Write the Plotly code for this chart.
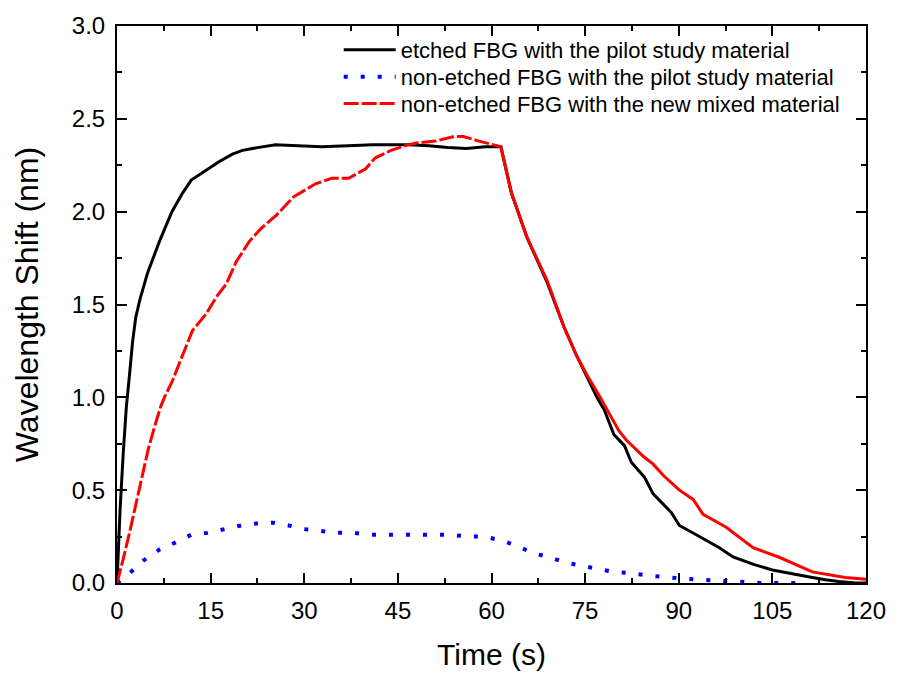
import plotly.graph_objects as go

# etched FBG with the pilot study material (black)
t_black = [0, 0.5, 1, 1.5, 2, 2.5, 3, 3.7, 4.9, 6.8, 8.8, 10.5, 11.9, 13.7, 16.4, 18.5, 20.1, 22.5, 25.4,
           29, 32.8, 37, 41, 46.6, 50, 53, 56, 59, 61.5, 63.2, 65.7, 68.9, 71.6, 73.7, 75.3, 76.9,
           78.1, 79.6, 81.3, 82.4, 84.5, 85.9, 88.8, 90.1, 92.8, 96.5, 98.7, 102, 105, 108,
           111.4, 113.5, 115.6, 118, 120]
y_black = [0, 0.4, 0.7, 0.95, 1.12, 1.3, 1.43, 1.53, 1.67, 1.84, 2.0, 2.1, 2.17, 2.21, 2.27, 2.31, 2.33, 2.345, 2.36,
           2.355, 2.35, 2.355, 2.36, 2.36, 2.355, 2.345, 2.34, 2.35, 2.35, 2.1, 1.86, 1.62, 1.38, 1.22, 1.11, 1.0,
           0.93, 0.80, 0.74, 0.65, 0.57, 0.48, 0.38, 0.31, 0.26, 0.19, 0.14, 0.1, 0.07, 0.05,
           0.03, 0.018, 0.008, 0.002, 0.0]

# non-etched FBG with the pilot study material (blue dotted)
t_blue = [0, 1.6, 4.2, 6.8, 9.5, 11.9, 14.5, 17.2, 19.9, 22.3, 24.9, 27.5, 30.2, 32.6, 35.2, 37.9,
          40.6, 43.1, 45.8, 48.4, 50.8, 53.5, 56.2, 58.8, 61.5, 64.1, 66.7, 69.2, 71.8, 74.5, 77.2,
          79.6, 82.3, 85, 87.5, 90.1, 92.7, 95.3, 98, 100.7, 103, 106, 109]
y_blue = [0, 0.04, 0.12, 0.18, 0.22, 0.26, 0.27, 0.29, 0.31, 0.32, 0.325, 0.31, 0.29, 0.28, 0.27, 0.27,
          0.26, 0.26, 0.26, 0.26, 0.26, 0.26, 0.25, 0.25, 0.23, 0.20, 0.16, 0.14, 0.11, 0.09, 0.075,
          0.06, 0.053, 0.04, 0.03, 0.025, 0.02, 0.015, 0.005, 0.0, 0.0, 0.0, 0.0]

# non-etched FBG with the new mixed material (red dashed)
t_red = [0, 0.5, 1, 2, 3, 4, 5, 6, 7, 7.6, 8.9, 10.3, 12.1, 14.3, 15.9, 17.5, 19.1, 21.2, 23.1, 25.5,
         28.3, 31.8, 34.4, 37.1, 39.8, 41.4, 43.9, 46.6, 48, 51, 54, 55.5, 58, 61.5, 63.2, 65.7, 68.9,
         71.6, 73.7, 75.3, 77.4, 80.4, 81.6, 84.4, 85.9, 87.5, 90.1, 92.3, 93.9, 97.6, 99.5, 101.9,
         106, 109.2, 111.4, 116.7, 120]
y_red = [0, 0.06, 0.13, 0.27, 0.42, 0.58, 0.72, 0.84, 0.95, 1.0, 1.09, 1.21, 1.36, 1.45, 1.54, 1.61, 1.73, 1.84, 1.91, 1.98,
         2.08, 2.15, 2.18, 2.18, 2.23, 2.29, 2.33, 2.36, 2.37, 2.38, 2.405, 2.405, 2.38, 2.35, 2.1, 1.86, 1.63,
         1.38, 1.22, 1.12, 1.0, 0.82, 0.77, 0.68, 0.64, 0.58, 0.50, 0.45, 0.37, 0.30, 0.25, 0.19,
         0.14, 0.09, 0.06, 0.03, 0.02]

FONT = "Liberation Sans, Arial"

# split point of the red series: dashed while rising, solid-looking while falling
split = t_red.index(61.5)

fig = go.Figure()
fig.add_trace(go.Scatter(x=t_black, y=y_black, mode="lines", legend="legend",
                         name="etched FBG with the pilot study material",
                         line=dict(color="black", width=3)))
fig.add_trace(go.Scatter(x=t_blue, y=y_blue, mode="lines", legend="legend2",
                         name="non-etched FBG with the pilot study material",
                         line=dict(color="#0000ff", width=4, dash="4px,13px")))
fig.add_trace(go.Scatter(x=t_red[:split + 1], y=y_red[:split + 1], mode="lines", legend="legend3",
                         name="non-etched FBG with the new mixed material",
                         line=dict(color="#ff0000", width=3, dash="15px,3px")))
fig.add_trace(go.Scatter(x=t_red[split:], y=y_red[split:], mode="lines", legend="legend3",
                         name="non-etched FBG with the new mixed material", showlegend=False,
                         line=dict(color="#ff0000", width=3)))

axis_common = dict(showline=True, linecolor="black", linewidth=2, mirror="ticks",
                   ticks="inside", ticklen=10, tickwidth=2, tickcolor="black",
                   showgrid=False, zeroline=False, ticklabelstandoff=5,
                   tickfont=dict(family=FONT, size=24, color="black"))

fig.update_xaxes(range=[0, 120], tickvals=[0, 15, 30, 45, 60, 75, 90, 105, 120],
                 minor=dict(ticks="inside", ticklen=5, tickwidth=2, tickcolor="black", dtick=7.5, tick0=0),
                 title=dict(text="Time (s)", font=dict(family=FONT, size=30, color="black"),
                            standoff=21),
                 **axis_common)
fig.update_yaxes(range=[0, 3.0], tickvals=[0, 0.5, 1.0, 1.5, 2.0, 2.5, 3.0], tickformat=".1f",
                 minor=dict(ticks="inside", ticklen=5, tickwidth=2, tickcolor="black", dtick=0.25, tick0=0),
                 title=dict(text="Wavelength Shift (nm)", font=dict(family=FONT, size=32, color="black"),
                            standoff=24),
                 **axis_common)

leg_common = dict(x=0.296, xanchor="left", yanchor="top", bgcolor="rgba(0,0,0,0)",
                  font=dict(family=FONT, size=22, color="black"), itemwidth=52)

fig.update_layout(
    width=898, height=678,
    margin=dict(l=117, r=27, t=24, b=95),
    paper_bgcolor="white", plot_bgcolor="white",
    showlegend=True,
    legend=dict(y=0.9946, **leg_common),
    legend2=dict(y=0.9463, **leg_common),
    legend3=dict(y=0.898, **leg_common),
)

fig.write_html("out.html")
